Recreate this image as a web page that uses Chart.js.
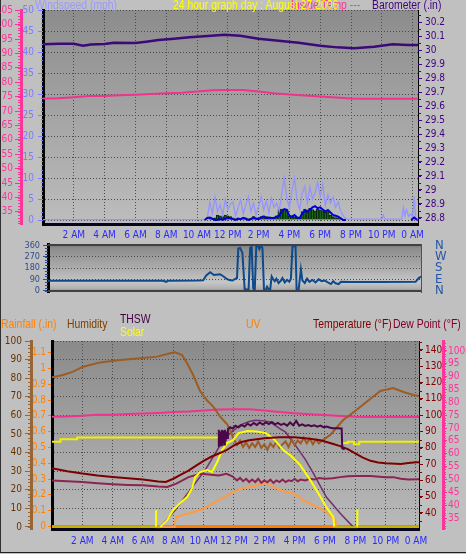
<!DOCTYPE html>
<html>
<head>
<meta charset="utf-8">
<script src="https://cdn.jsdelivr.net/npm/chart.js@4.4.1/dist/chart.umd.min.js"></script>
<style>
  html, body { margin: 0; padding: 0; }
  body { width: 466px; height: 554px; background: #c0c0c0; position: relative; overflow: hidden; }
  #edge { position: absolute; left: 0; top: 0; width: 466px; height: 553px; box-sizing: border-box; border-left: 1px solid #303030; border-bottom: 1px solid #202020; }
  canvas { position: absolute; left: 0; top: 0; }
  .t { position: absolute; font-family: 'Liberation Sans', Arial, sans-serif; font-size: 13px; line-height: 13px; white-space: nowrap; transform: scaleX(0.8); transform-origin: 0 0; }
</style>
</head>
<body>
<div id="edge"></div>
<canvas id="c1" width="466" height="554"></canvas>
<canvas id="c2" width="466" height="554"></canvas>
<canvas id="c3" width="466" height="554"></canvas>

<div class="t" style="left:35px;top:-2px;color:#9999ff">Windspeed (mph)</div>
<div class="t" style="left:291px;top:-2px;color:#ff3399">Inside Temp ---</div>
<div class="t" style="left:173px;top:-2px;color:#ffff00">24 hour graph day : August 27 2006</div>
<div class="t" style="left:372px;top:-2px;color:#400080">Barometer (.in)</div>

<div class="t" style="left:1px;top:317px;color:#ff8000">Rainfall (.in)</div>
<div class="t" style="left:67px;top:317px;color:#804000">Humidity</div>
<div class="t" style="left:120px;top:312px;color:#400040">THSW</div>
<div class="t" style="left:120px;top:325px;color:#ffff00">Solar</div>
<div class="t" style="left:246px;top:317px;color:#ff8000">UV</div>
<div class="t" style="left:313px;top:317px;color:#800000">Temperature (°F)</div>
<div class="t" style="left:393px;top:317px;color:#800030">Dew Point (°F)</div>

<script>
// ---- top panel: barometer, inside temp, wind ----
const baroTimes = [0, 1, 2, 2.6, 3.1, 4, 4.6, 6, 6.7, 7.5, 8.5, 9.5, 10.7, 11.8, 12.8, 14, 15.3, 16.6, 18, 19.1, 20.2, 21.5, 22.7, 23.7, 24.35];
const baroValues = [30.041, 30.045, 30.044, 30.031, 30.040, 30.043, 30.052, 30.050, 30.059, 30.071, 30.081, 30.091, 30.100, 30.109, 30.102, 30.081, 30.066, 30.052, 30.031, 30.019, 30.012, 30.024, 30.041, 30.036, 30.036];

const inTimes = [0, 1, 2, 3, 4, 5, 6, 7, 8, 9, 10, 11, 12, 13, 14, 15, 16, 17, 18, 19, 20, 21, 22, 23, 24, 24.35];
const inValues = [74.4, 74.5, 74.8, 75.2, 75.2, 75.5, 75.7, 75.9, 76.2, 76.4, 76.8, 77.2, 77.3, 77.3, 76.8, 76.2, 75.8, 75.4, 75.1, 74.7, 74.4, 74.3, 74.3, 74.3, 74.3, 74.3];

// 10 minute samples from 10:30 to 19:40
const WIND_START = 10.5, WIND_STEP = 1 / 6;
const windHi = [0, 0.5, 4.3, 1.5, 5.5, 2.0, 3.6, 1.2, 4.8, 2.5, 3.8, 4.3, 1.0, 2.9, 4.8, 1.5, 3.5, 5.5, 2.0, 4.0, 1.2, 3.3, 5.5, 2.4, 4.5, 1.8, 5.2, 3.0, 4.0, 2.2, 6.0, 10.0, 5.0, 3.0, 7.0, 10.0, 4.5, 2.5, 6.5, 8.0, 4.0, 7.9, 5.0, 6.5, 9.0, 5.5, 8.5, 3.5, 6.0, 4.0, 5.5, 3.0, 4.3, 2.0, 1.0, 0.3];
const windAvg = [0, 0.5, 0.6, 0.3, 0, 0, 0.2, 0, 0.3, 0.5, 0.4, 0.2, 0, 0.3, 0.2, 0.5, 0.3, 0, 0.2, 0.6, 0.3, 0.2, 0.6, 0.8, 0.5, 0.6, 0.5, 0.5, 0.8, 1.0, 2.0, 2.6, 2.4, 1.0, 0.8, 1.2, 0.6, 0.5, 1.5, 2.2, 2.0, 2.4, 3.0, 3.3, 2.8, 3.0, 2.5, 2.0, 2.4, 1.8, 1.2, 1.0, 0.8, 0.4, 0, 0];
const windBars = [0, 0, 0.3, 0.2, 0.5, 1.2, 1.0, 0.8, 1.2, 1.0, 0.8, 0.5, 0.3, 0.5, 0.4, 0.6, 0.5, 0.3, 0.4, 0.8, 0.5, 0.5, 0.8, 1.0, 0.8, 0.6, 0.7, 0.6, 1.0, 2.5, 2.6, 2.6, 2.5, 1.0, 0.8, 0.8, 0.5, 0.6, 2.0, 2.6, 2.4, 2.8, 2.5, 2.2, 2.6, 2.4, 2.2, 1.8, 2.0, 1.2, 0.8, 0.6, 0.5, 0.3, 0, 0];
const hiBeforeTimes = [0, 10.45];
const hiBeforeValues = [0.1, 0.1];
const hiAfterTimes = [19.85, 22.0, 22.1, 22.2, 23.3, 23.4, 23.5, 23.6, 23.75, 23.9, 24.0, 24.1, 24.2, 24.35];
const hiAfterValues = [0.2, 0.2, 1.2, 0.2, 0.2, 2.9, 1.0, 2.5, 0.8, 1.5, 0.5, 5.5, 0.4, 0.3];
const avgAfterTimes = [23.9, 24.1, 24.3];
const avgAfterValues = [0, 0.6, 0];

// ---- middle panel: wind direction ----
const dirTimes = [0, 2, 4, 6, 7.8, 8.0, 8.1, 10.0, 10.4, 10.6, 10.85, 11.1, 11.5, 11.75, 11.9, 12.1, 12.3, 12.5, 12.6, 12.68, 12.8, 12.95, 13.1, 13.2, 13.35, 13.45, 13.55, 13.65, 13.75, 13.85, 13.95, 14.05, 14.15, 14.25, 14.35, 14.45, 14.55, 14.65, 14.75, 14.85, 14.95, 15.05, 15.15, 15.3, 15.45, 15.55, 15.7, 15.85, 16.0, 16.1, 16.2, 16.3, 16.4, 16.47, 16.6, 16.75, 16.85, 17.0, 17.15, 17.3, 17.5, 17.7, 17.9, 18.1, 18.3, 18.5, 18.7, 18.85, 19.0, 19.2, 19.35, 20, 22, 24.2, 24.4, 24.55];
const dirValues = [78, 78, 78, 78, 78, 70, 78, 80, 82, 120, 146, 124, 130, 110, 96, 84, 80, 96, 100, 335, 340, 300, 0, 10, 5, 340, 350, 20, 0, 355, 360, 330, 358, 340, 10, 0, 30, 10, 5, 112, 90, 75, 95, 60, 80, 100, 65, 85, 70, 95, 349, 355, 350, 0, 5, 169, 80, 60, 95, 70, 85, 65, 90, 75, 80, 65, 52, 75, 58, 52, 70, 69, 69, 70, 100, 112];
const compass = { 0: 'N', 90: 'E', 180: 'S', 270: 'W', 360: 'N' };

// ---- bottom panel ----
const humTimes = [0, 0.73, 1.39, 2.05, 3.17, 4.49, 5.81, 6.93, 7.79, 8.12, 8.58, 8.91, 9.31, 9.77, 10.23, 10.63, 11.09, 11.55, 11.75, 12.0, 12.2, 12.4, 12.6, 12.8, 13.0, 13.2, 13.4, 13.6, 13.8, 14.0, 14.2, 14.4, 14.6, 14.8, 15.0, 15.2, 15.4, 15.6, 15.8, 16.0, 16.2, 16.4, 16.6, 16.8, 17.0, 17.2, 17.4, 17.6, 17.8, 18.0, 18.35, 19.2, 20.07, 20.73, 21.65, 22.5, 23.17, 23.83, 24.2];
const humValues = [80.5, 81.7, 83.5, 86.2, 88.5, 89.8, 90.7, 91.6, 93.4, 93.9, 92.5, 88, 81.7, 73, 68, 64.7, 59.3, 55.2, 52, 47, 44, 46.5, 43, 45.5, 42.5, 45, 43, 46, 42.5, 44.5, 41.5, 45, 43, 46, 42.5, 44.5, 46, 43, 47, 44, 46.5, 45, 48, 45, 47.5, 44.5, 47, 45, 46.5, 47.5, 49.5, 57.5, 62.9, 67.2, 73.1, 74.7, 72.6, 71, 70.4];

const tempTimes = [0, 1, 2, 3, 4, 5, 6, 7, 7.5, 8, 8.5, 9, 9.5, 10, 10.5, 11, 11.5, 12, 12.5, 13, 14, 15, 16, 17, 17.7, 18.5, 19, 19.5, 20, 20.5, 21, 21.5, 22, 23, 23.5, 24, 24.2];
const tempValues = [67.4, 65.6, 64.2, 63.0, 62.1, 61.3, 60.5, 59.3, 59.0, 61.0, 63.5, 66.0, 69.0, 72.0, 74.5, 76.5, 78.5, 81.5, 83.5, 84.6, 85.8, 86.4, 86.4, 85.5, 84.6, 82.5, 81.0, 79.2, 76.5, 74.0, 72.0, 71.0, 70.5, 70.0, 70.6, 71.1, 71.1];

const dewTimes = [0, 1, 2, 3, 4, 5, 6, 7, 7.6, 8.2, 9, 9.8, 10.5, 11, 11.5, 11.9, 12.2, 12.4, 12.6, 12.8, 13.0, 13.2, 13.4, 13.6, 13.8, 14.0, 14.2, 14.4, 14.6, 14.8, 15.0, 15.2, 15.4, 15.6, 15.8, 16.0, 16.2, 16.4, 16.7, 17.0, 17.3, 17.6, 18.0, 18.5, 19.0, 19.5, 20.0, 21.0, 22.0, 22.5, 23.0, 23.5, 24.2];
const dewValues = [60, 59.5, 59, 58.2, 57.6, 57.2, 57, 56.2, 56, 58, 62, 64, 63.5, 63, 64, 62.5, 60, 61.5, 59.5, 61, 59, 60.5, 59, 61, 58.5, 60, 58.8, 60.5, 58.5, 60, 59, 60.5, 59, 60, 59.5, 61, 59.5, 60.5, 60, 61, 60.5, 61.5, 61, 61.3, 62, 62.5, 62.7, 62.7, 62, 62, 61, 60.5, 60.7];

const thswTimes = [10.95, 11.0, 11.05, 11.1, 11.15, 11.2, 11.25, 11.3, 11.35, 11.4, 11.45, 11.5, 11.55, 11.6, 11.75, 11.9, 12.1, 12.3, 12.5, 12.7, 12.9, 13.1, 13.3, 13.5, 13.7, 13.9, 14.1, 14.3, 14.5, 14.7, 14.9, 15.1, 15.3, 15.5, 15.7, 15.9, 16.1, 16.3, 16.5, 16.7, 16.9, 17.1, 17.3, 17.5, 17.7, 17.9, 18.1, 18.3, 18.5, 18.8, 19.1, 19.14, 19.3];
const thswValues = [81, 91, 82, 90, 81.5, 91, 83, 90.5, 82, 91, 84, 90, 86, 91.5, 92.6, 91.8, 93.5, 92.5, 94, 93, 94.8, 93.6, 95.2, 94, 95.5, 94.2, 95.6, 94.5, 95.8, 94.4, 95.3, 94, 94.8, 93.6, 95.5, 93.8, 96.5, 93.5, 94.4, 93.4, 94, 93.2, 93.8, 93, 93.6, 92.6, 93, 92.4, 92, 92, 91.8, 79.7, 79];

const solarTimes = [0, 6.86, 6.86, 6.87, 7.13, 7.59, 7.99, 8.45, 8.91, 9.24, 9.44, 9.77, 10.23, 10.56, 10.89, 11.22, 11.55, 11.95, 12.3, 12.9, 13.5, 14.1, 14.7, 15.25, 15.7, 16.37, 17.03, 17.6, 18.09, 18.55, 18.62, 20.13, 20.13, 20.14, 24.2];
const solarValues = [0, 0, 90, 0, 0, 37, 90, 128, 160, 207, 266, 293, 303, 293, 346, 410, 447, 463, 500, 511, 508, 500, 463, 410, 383, 330, 250, 175, 106, 53, 0, 0, 95, 0, 0];
const solarMaxTimes = [7.13, 8.12, 9.1, 10.1, 11.09, 11.75, 12.4, 13.0, 13.4, 13.9, 14.39, 15.05, 15.4, 16.04, 16.7, 17.23, 18.09, 19.0, 19.87];
const solarMaxValues = [0, 90, 197, 303, 436, 500, 543, 562, 569, 566, 559, 522, 505, 436, 360, 287, 160, 74, 0];
const levelTimes = [0, 0.55, 0.56, 1.65, 1.66, 11.6, 11.61, 19.1, 19.5, 19.51, 19.9, 19.91, 20.25, 20.26, 24.2];
const levelValues = [454, 454, 468, 468, 477, 477, null, 447, 447, 454, 454, 441, 441, 454, 454];

const uvTimes = [0, 8.1, 8.12, 8.2, 8.6, 9.2, 9.77, 10.3, 10.76, 11.4, 11.95, 12.6, 13.27, 13.9, 14.1, 14.6, 15.25, 15.9, 16.57, 17.23, 17.9, 18.55, 18.68, 18.75, 24.2];
const uvValues = [0, 0, 0.8, 1.6, 1.9, 2.3, 2.7, 3.3, 4.0, 4.8, 5.6, 6.2, 6.5, 6.9, 7.1, 6.4, 5.7, 5.4, 4.3, 3.5, 2.7, 1.5, 1.1, 0, 0];
const rainTimes = [0, 24.2];
const rainValues = [0, 0];

// ---- helpers ----
const FONT = "'Liberation Sans Narrow', 'DejaVu Sans Condensed', 'Liberation Sans', sans-serif";
const pts = (t, v) => t.map((x, i) => ({ x, y: v[i] }));
const windTimes = windHi.map((_, i) => WIND_START + i * WIND_STEP);

function hourLabel(v) {
  if (v <= 0) return '';
  const h = v % 24;
  if (h === 0) return '0 AM';
  if (h === 12) return '12 PM';
  return h < 12 ? h + ' AM' : (h - 12) + ' PM';
}

const minorTicks = {
  yPink1: [1, 3, '#ff3399'],
  yWind: [1, 2, '#8080ff'],
  yBaro: [0.05, 3, '#400080'],
  yDir: [22.5, 3, '#2c4c8c'],
  yHum: [2, 3, '#996633'],
  yTemp: [5, 3, '#800000'],
  yPink3: [1, 3, '#ff3399']
};

const minorPlugin = {
  id: 'minor',
  afterDraw(chart) {
    const ctx = chart.ctx;
    Object.entries(minorTicks).forEach(([id, [step, len, color]]) => {
      const s = chart.scales[id];
      if (!s) return;
      const left = s.position === 'left';
      const edge = left ? s.right : s.left;
      ctx.save();
      ctx.strokeStyle = color;
      ctx.lineWidth = 1;
      ctx.beginPath();
      for (let k = Math.ceil(s.min / step); k * step <= s.max; k++) {
        const y = Math.round(s.getPixelForValue(k * step)) + 0.5;
        ctx.moveTo(edge, y);
        ctx.lineTo(edge + (left ? -len : len), y);
      }
      ctx.stroke();
      ctx.restore();
    });
  }
};

function backdrop(stops, frame) {
  return {
    id: 'backdrop',
    beforeDraw(chart) {
      const { ctx, chartArea: a } = chart;
      const g = ctx.createLinearGradient(0, a.top, 0, a.bottom);
      stops.forEach(([o, c]) => g.addColorStop(o, c));
      ctx.save();
      ctx.fillStyle = g;
      ctx.fillRect(a.left, a.top, a.right - a.left, a.bottom - a.top);
      ctx.restore();
    },
    afterDraw(chart) {
      if (!frame) return;
      const { ctx, chartArea: a } = chart;
      ctx.save();
      ctx.strokeStyle = '#404040';
      ctx.lineWidth = 2;
      ctx.beginPath();
      ctx.moveTo(a.left, a.bottom - 1);
      ctx.lineTo(a.right, a.bottom - 1);
      ctx.moveTo(a.left, a.top + 1);
      ctx.lineTo(a.right, a.top + 1);
      ctx.stroke();
      ctx.restore();
    }
  };
}

function xAxis(min, max, show, pad) {
  return {
    type: 'linear', min, max, offset: false, display: show,
    afterFit: s => { s.height = 20; },
    grid: { color: '#4c4c4c', drawTicks: false, offset: false },
    border: { display: true, color: '#06061a', width: 3, dash: [1, 2] },
    ticks: {
      stepSize: 2, includeBounds: false, autoSkip: false, maxRotation: 0,
      color: '#2a2aff', padding: pad, font: { family: FONT, size: 10 },
      callback: hourLabel
    }
  };
}

function yAxis(o) {
  return {
    type: 'linear', position: o.pos, weight: o.weight || 0, min: o.min, max: o.max,
    display: o.show !== false,
    afterFit: s => { s.width = o.width; },
    grid: {
      drawOnChartArea: !!o.grid, color: '#4c4c4c',
      drawTicks: o.tick > 0, tickLength: o.tick || 0, tickColor: o.color
    },
    border: { display: true, color: o.borderColor || o.color, width: o.borderWidth || 1, dash: [1, 2] },
    ticks: {
      stepSize: o.step, includeBounds: false, autoSkip: false,
      color: o.labelColor || o.color, padding: o.pad,
      font: { family: FONT, size: o.size || 10 },
      callback: o.cb || (v => String(+v.toFixed(2)))
    }
  };
}

function line(label, data, axis, color, width, order, extra) {
  return Object.assign({ label, data, yAxisID: axis, borderColor: color, borderWidth: width, order }, extra || {});
}

const common = {
  responsive: false, animation: false, devicePixelRatio: 1,
  plugins: { legend: { display: false }, tooltip: { enabled: false } },
  elements: { point: { radius: 0 }, line: { tension: 0 } }
};

// ---- chart 1 ----
new Chart(document.getElementById('c1'), {
  type: 'line',
  data: {
    datasets: [
      line('Barometer', pts(baroTimes, baroValues), 'yBaro', '#3c0a78', 2.5, 1),
      line('Inside Temp', pts(inTimes, inValues), 'yPink1', '#f0338c', 2, 2),
      line('Wind Avg', pts(windTimes, windAvg).concat([{ x: 21, y: null }], pts(avgAfterTimes, avgAfterValues)), 'yWind', '#0000d8', 2, 3),
      line('Wind Hi', pts(hiBeforeTimes, hiBeforeValues).concat(pts(windTimes, windHi), pts(hiAfterTimes, hiAfterValues)), 'yWind', '#9494ff', 1.3, 4),
      {
        type: 'bar', label: 'Wind', data: pts(windTimes, windBars), yAxisID: 'yWind', order: 5,
        backgroundColor: '#1c6a1c', borderColor: '#082808', borderWidth: 1,
        barPercentage: 1, categoryPercentage: 1, grouped: false
      }
    ]
  },
  options: Object.assign({}, common, {
    layout: { padding: { top: 10, bottom: 310, left: 0, right: 0 } },
    scales: {
      x: xAxis(0, 24.35, true, 5),
      yWind: yAxis({ pos: 'left', weight: 0, min: -0.95, max: 50, width: 22, step: 5, tick: 5, pad: 4, color: '#8080ff', labelColor: '#7c7cff', borderColor: '#000000', borderWidth: 3, grid: true }),
      yPink1: yAxis({ pos: 'left', weight: 1, min: 30.8, max: 105.1, width: 21, step: 5, tick: 6, pad: 2, color: '#ff3399', borderWidth: 3 }),
      yBaro: yAxis({ pos: 'right', min: 28.757, max: 30.286, width: 48, step: 0.1, tick: 4, pad: 3, color: '#400080', borderColor: '#000000' })
    }
  }),
  plugins: [backdrop([[0, '#8c8c8c'], [1, '#bdbdbd']]), minorPlugin]
});

// ---- chart 2 ----
new Chart(document.getElementById('c2'), {
  type: 'line',
  data: {
    datasets: [
      line('Wind Direction', pts(dirTimes, dirValues), 'yDir', '#0c4a8c', 2, 1)
    ]
  },
  options: Object.assign({}, common, {
    layout: { padding: { top: 244, bottom: 242, left: 0, right: 0 } },
    scales: {
      x: xAxis(0.32, 24.55, false, 0),
      yDir: yAxis({ pos: 'left', min: -11.25, max: 371.25, width: 48, step: 90, tick: 5, pad: 3, size: 9, color: '#2c4c8c', borderColor: '#000000', borderWidth: 3, grid: true }),
      yDirR: yAxis({ pos: 'right', min: -11.25, max: 371.25, width: 45, step: 90, tick: 0, pad: 14, size: 13, color: '#2456a8', borderColor: '#505050', cb: v => compass[v] || '' })
    }
  }),
  plugins: [backdrop([[0, '#767676'], [0.1, '#8e8e8e'], [0.45, '#a8a8a8'], [0.8, '#c6c6c6'], [0.92, '#b2b2b2'], [1, '#858585']], true), minorPlugin]
});

// ---- chart 3 ----
// solar at zero (night) shows as a darker yellow on top of the rain line
const nightSolar = { borderColor: c => (c.p0.parsed.y === 0 && c.p1.parsed.y === 0 ? '#c8b000' : undefined) };

new Chart(document.getElementById('c3'), {
  type: 'line',
  data: {
    datasets: [
      line('THSW', pts(thswTimes, thswValues), 'yTemp', '#4a0848', 2, 1),
      line('Temperature', pts(tempTimes, tempValues), 'yTemp', '#7c0000', 2, 2),
      line('Solar', pts(solarTimes, solarValues), 'ySolar', '#ffff00', 2, 3, { segment: nightSolar }),
      line('Humidity', pts(humTimes, humValues), 'yHum', '#9c5c24', 2, 4),
      line('Dew Point', pts(dewTimes, dewValues), 'yTemp', '#8c2450', 2, 5),
      line('Solar Max', pts(solarMaxTimes, solarMaxValues), 'ySolar', '#70306c', 1.5, 6),
      line('UV', pts(uvTimes, uvValues), 'yUV', '#ff9a40', 2, 7),
      line('Inside Temp', pts(inTimes, inValues), 'yPink3', '#f0338c', 2, 8),
      line('Solar Level', pts(levelTimes, levelValues), 'ySolar', '#f0f000', 2, 9),
      line('Rainfall', pts(rainTimes, rainValues), 'yRain', '#ff8000', 3, 10)
    ]
  },
  options: Object.assign({}, common, {
    layout: { padding: { top: 341, bottom: 5, left: 0, right: 0 } },
    scales: {
      x: xAxis(0, 24.2, true, 6),
      yRain: yAxis({ pos: 'left', weight: 0, min: -0.016, max: 1.174, width: 21, step: 0.1, tick: 4, pad: 2, color: '#ff8000', borderColor: '#000000', borderWidth: 3 }),
      yHum: yAxis({ pos: 'left', weight: 1, min: -1.08, max: 100, width: 31, step: 10, tick: 6, pad: 3, color: '#996633', labelColor: '#663300', borderWidth: 3, grid: true }),
      yTemp: yAxis({ pos: 'right', weight: 0, min: 30.18, max: 145.5, width: 24, step: 10, tick: 4, pad: 2, color: '#800000', borderColor: '#000000' }),
      yPink3: yAxis({ pos: 'right', weight: 1, min: 30.72, max: 103.87, width: 23, step: 5, tick: 4, pad: 1, color: '#ff3399', borderWidth: 3 }),
      ySolar: { type: 'linear', display: false, min: -10, max: 990 },
      yUV: { type: 'linear', display: false, min: -0.32, max: 29.68 }
    }
  }),
  plugins: [backdrop([[0, '#8a8a8a'], [1, '#bababa']]), minorPlugin]
});
</script>
</body>
</html>
